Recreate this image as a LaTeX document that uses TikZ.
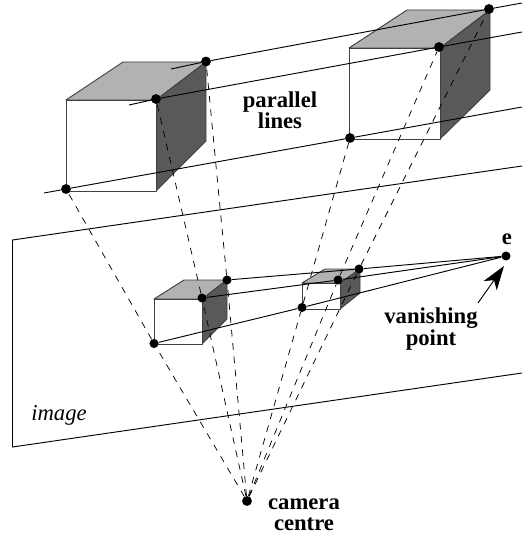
\documentclass[tikz,border=0pt]{standalone}
\usepackage{fontspec}
\setmainfont{Liberation Serif}
\usetikzlibrary{arrows.meta}

\begin{document}
\begin{tikzpicture}[
    x=0.75pt, y=-0.75pt,
    edge/.style={draw=black!75, line width=0.7pt, line join=round},
    topface/.style={edge, fill=black!30},
    sideface/.style={edge, fill=black!65},
    frontface/.style={edge, fill=white},
    ray/.style={black, line width=0.55pt, dash pattern=on 5pt off 5pt},
    solid line/.style={black, line width=0.7pt},
    dot/.style={circle, fill=black, inner sep=0pt, minimum size=7.4pt},
    smalldot/.style={dot, minimum size=6.8pt},
    label/.style={font=\fontsize{17}{17}\selectfont\bfseries, align=center}
]
    \useasboundingbox (0, 0) rectangle (522, 535);

    % Large cube, left
    \draw[topface] (66, 100) -- (123, 62) -- (206, 62) -- (156, 100) -- cycle;
    \draw[sideface] (156, 100) -- (206, 62) -- (206, 141) -- (156, 191) -- cycle;
    \draw[frontface] (66, 100) rectangle (156, 191);

    % Large cube, right
    \draw[topface] (349, 48) -- (407, 10) -- (490, 10) -- (440, 48) -- cycle;
    \draw[sideface] (440, 48) -- (490, 10) -- (490, 90) -- (440, 139) -- cycle;
    \draw[frontface] (349, 48) rectangle (440, 139);

    % Small cube, left
    \draw[topface] (154, 299) -- (184, 280) -- (227, 280) -- (202, 299) -- cycle;
    \draw[sideface] (202, 299) -- (227, 280) -- (227, 319) -- (202, 344) -- cycle;
    \draw[frontface] (154, 299) rectangle (202, 344);

    % Small cube, right
    \draw[topface] (302, 283) -- (325, 269) -- (360, 269) -- (340, 283) -- cycle;
    \draw[sideface] (340, 283) -- (360, 269) -- (360, 293) -- (340, 309) -- cycle;
    \draw[frontface] (302, 283) rectangle (340, 309);

    % Dots
    \node[dot] (a1) at (66, 189) {};
    \node[dot] (b1) at (156, 99) {};
    \node[dot] (c1) at (206, 61.5) {};
    \node[dot] (a2) at (350, 138) {};
    \node[dot] (b2) at (439, 47) {};
    \node[dot] (c2) at (489, 9) {};
    \node[smalldot] (p1) at (154, 343.5) {};
    \node[smalldot] (q1) at (202, 298) {};
    \node[smalldot] (r1) at (227, 280) {};
    \node[smalldot] (p2) at (302, 307.5) {};
    \node[smalldot] (q2) at (338, 280) {};
    \node[smalldot] (r2) at (359, 269) {};
    \node[smalldot] (e) at (506, 256) {};
    \node[dot] (cam) at (247, 501) {};

    % Free ends of the lines
    \coordinate (a0) at (44, 193);
    \coordinate (a3) at (522, 107);
    \coordinate (b0) at (129, 105);
    \coordinate (b3) at (522, 32);
    \coordinate (c0) at (171, 69);
    \coordinate (c3) at (522, 3);

    % Parallel lines
    \draw[solid line] (a0) -- (a1) -- (a2) -- (a3);
    \draw[solid line] (b0) -- (b1) -- (b2) -- (b3);
    \draw[solid line] (c0) -- (c1) -- (c2) -- (c3);

    % Image plane
    \draw[solid line] (522, 166) -- (12.5, 240) -- (12.5, 447) -- (522, 373);

    % Lines to the vanishing point
    \draw[solid line] (p1) -- (p2) -- (e);
    \draw[solid line] (q1) -- (q2) -- (e);
    \draw[solid line] (r1) -- (r2) -- (e);

    % Rays
    \draw[ray] (cam) -- (p1) -- (a1);
    \draw[ray] (cam) -- (q1) -- (b1);
    \draw[ray] (cam) -- (r1) -- (c1);
    \draw[ray] (cam) -- (p2) -- (a2);
    \draw[ray] (cam) -- (q2) -- (b2);
    \draw[ray] (cam) -- (r2) -- (c2);

    % Labels
    \node[label] (par) at (280, 110.5) {parallel\\[-1pt]lines};
    \node[label] (elabel) at (507, 239) {e};
    \node[label] (van) at (431, 329) {vanishing\\[-1pt]point};
    \node[label] (camlabel) at (304, 514.5) {camera\\[-1pt]centre};
    \node[font=\fontsize{17}{17}\selectfont\itshape] (img) at (59, 415) {image};

    % Arrow
    \coordinate (tail) at (478, 303);
    \coordinate (tip) at (504, 266);
    \draw[-{Stealth[length=18pt, width=12pt, inset=5pt]}, line width=0.7pt] (tail) -- (tip);

\end{tikzpicture}
\end{document}
